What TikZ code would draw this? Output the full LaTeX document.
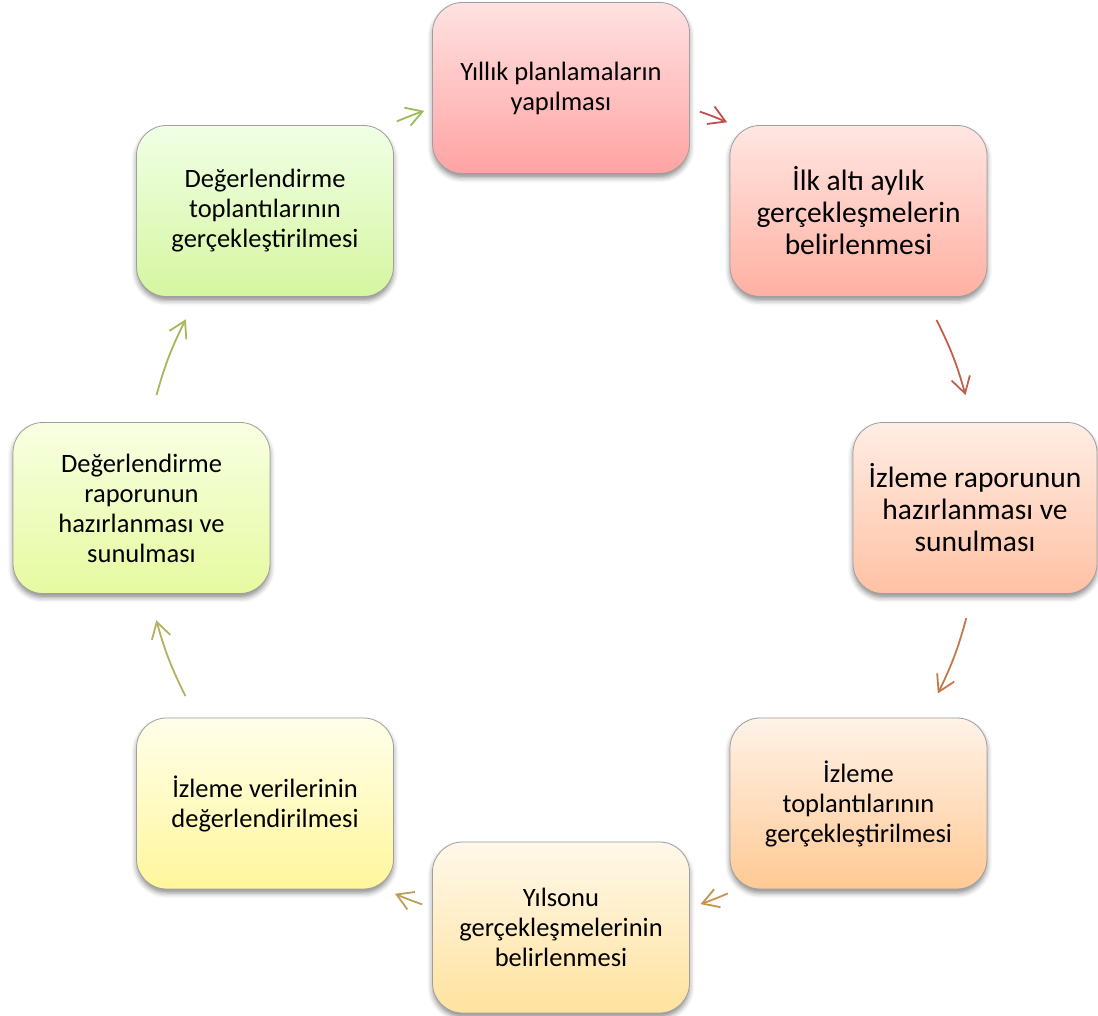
\documentclass[tikz,border=0pt]{standalone}
\usepackage{fontspec}
\setmainfont{Carlito}
\usetikzlibrary{arrows.meta,shadows.blur}
\definecolor{cat}{HTML}{FFE2E2}\definecolor{cab}{HTML}{FFA3A3}
\definecolor{cbt}{HTML}{FFE6E2}\definecolor{cbb}{HTML}{FFB0A2}
\definecolor{cct}{HTML}{FFEDE4}\definecolor{ccb}{HTML}{FFC1A4}
\definecolor{cdt}{HTML}{FFF2E8}\definecolor{cdb}{HTML}{FFC994}
\definecolor{cet}{HTML}{FFF8EA}\definecolor{ceb}{HTML}{FFE29E}
\definecolor{cft}{HTML}{FFFFEA}\definecolor{cfb}{HTML}{FFF69C}
\definecolor{cgt}{HTML}{F8FFE2}\definecolor{cgb}{HTML}{E6FAA0}
\definecolor{cht}{HTML}{F0FFE6}\definecolor{chb}{HTML}{D6F6A0}
\definecolor{ar1}{HTML}{C0504D}
\definecolor{ar2}{HTML}{C2604B}
\definecolor{ar3}{HTML}{C27A4C}
\definecolor{ar4}{HTML}{C49350}
\definecolor{ar5}{HTML}{BBA05A}
\definecolor{ar6}{HTML}{B5B062}
\definecolor{ar7}{HTML}{A6B75C}
\definecolor{ar8}{HTML}{9BBB59}
\begin{document}
\begin{tikzpicture}[x=1pt,y=1pt,
  box/.style={rounded corners=30pt, draw=gray!75, line width=0.8pt,
    minimum width=257pt, minimum height=171pt, align=center, inner sep=4pt,
    font=\fontsize{26.5}{30}\selectfont,
    blur shadow={shadow xshift=0pt, shadow yshift=-4pt, shadow blur radius=5pt, shadow opacity=45}},
  bigtext/.style={font=\fontsize{29.5}{32}\selectfont},
  arr/.style={line width=1.8pt, -{Straight Barb[length=16pt,width=19pt]}}]
\useasboundingbox (0,0) rectangle (1098,-1016);
\coordinate (C) at (561,-508);

\node[box, top color=cat, bottom color=cab] (n1) at (561,-88) {Yıllık planlamaların\\yapılması};
\node[box, bigtext, top color=cbt, bottom color=cbb] (n2) at (858.5,-211) {İlk altı aylık\\gerçekleşmelerin\\belirlenmesi};
\node[box, bigtext, top color=cct, bottom color=ccb, minimum width=244pt] (n3) at (975,-508) {İzleme raporunun\\hazırlanması ve\\sunulması};
\node[box, top color=cdt, bottom color=cdb] (n4) at (858.5,-803.5) {İzleme\\toplantılarının\\gerçekleştirilmesi};
\node[box, top color=cet, bottom color=ceb] (n5) at (561,-927.5) {Yılsonu\\gerçekleşmelerinin\\belirlenmesi};
\node[box, top color=cft, bottom color=cfb] (n6) at (265,-803.5) {İzleme verilerinin\\değerlendirilmesi};
\node[box, top color=cgt, bottom color=cgb] (n7) at (141.5,-508) {Değerlendirme\\raporunun\\hazırlanması ve\\sunulması};
\node[box, top color=cht, bottom color=chb] (n8) at (265,-211) {Değerlendirme\\toplantılarının\\gerçekleştirilmesi};

\coordinate (s12) at ([shift={(70.7:420)}]C);
\coordinate (e12) at ([shift={(66.7:420)}]C);
\coordinate (s23) at ([shift={(26.6:420)}]C);
\coordinate (e23) at ([shift={(15.6:420)}]C);
\coordinate (s34) at ([shift={(-15.2:420)}]C);
\coordinate (e34) at ([shift={(-26.2:420)}]C);
\coordinate (s45) at ([shift={(-66.6:420)}]C);
\coordinate (e45) at ([shift={(-70.6:420)}]C);
\coordinate (s56) at ([shift={(-109.3:420)}]C);
\coordinate (e56) at ([shift={(-113.3:420)}]C);
\coordinate (s67) at ([shift={(-153.4:420)}]C);
\coordinate (e67) at ([shift={(-164.5:420)}]C);
\coordinate (s78) at ([shift={(164.4:420)}]C);
\coordinate (e78) at ([shift={(153.3:420)}]C);
\coordinate (s81) at ([shift={(113.0:420)}]C);
\coordinate (e81) at ([shift={(109.0:420)}]C);

\draw[arr, ar1] (s12) to[bend left=2] (e12);
\draw[arr, ar2] (s23) to[bend left=5.5] (e23);
\draw[arr, ar3] (s34) to[bend left=5.5] (e34);
\draw[arr, ar4] (s45) to[bend left=2] (e45);
\draw[arr, ar5] (s56) to[bend left=2] (e56);
\draw[arr, ar6] (s67) to[bend left=5.5] (e67);
\draw[arr, ar7] (s78) to[bend left=5.5] (e78);
\draw[arr, ar8] (s81) to[bend left=2] (e81);
\end{tikzpicture}
\end{document}
